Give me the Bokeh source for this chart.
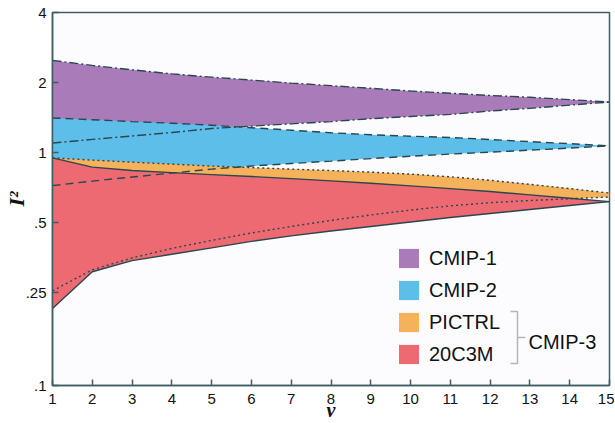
import math
from bokeh.plotting import figure
from bokeh.models import FixedTicker, Legend, LegendItem, Label, PolyAnnotation
from bokeh.embed import file_html
from bokeh.resources import INLINE

# ---- data ----
nu = list(range(1, 16))
cmip1_hi = [2.49, 2.37, 2.27, 2.18, 2.11, 2.05, 1.99, 1.94, 1.89, 1.84, 1.80, 1.76, 1.73, 1.69, 1.65]
cmip1_lo = [1.10, 1.14, 1.18, 1.22, 1.27, 1.30, 1.33, 1.36, 1.40, 1.43, 1.46, 1.51, 1.55, 1.60, 1.65]
cmip2_hi = [1.41, 1.385, 1.36, 1.338, 1.312, 1.28, 1.249, 1.218, 1.194, 1.177, 1.162, 1.139, 1.115, 1.093, 1.07]
cmip2_lo = [0.722, 0.755, 0.786, 0.817, 0.850, 0.876, 0.898, 0.920, 0.943, 0.966, 0.986, 1.005, 1.025, 1.046, 1.07]
pictrl_hi = [0.950, 0.929, 0.911, 0.893, 0.876, 0.863, 0.850, 0.838, 0.825, 0.809, 0.788, 0.761, 0.731, 0.701, 0.671]
pictrl_lo = [0.255, 0.314, 0.353, 0.388, 0.420, 0.452, 0.482, 0.512, 0.540, 0.567, 0.591, 0.610, 0.623, 0.634, 0.645]
c20_hi = [0.950, 0.867, 0.838, 0.821, 0.805, 0.790, 0.774, 0.757, 0.739, 0.720, 0.701, 0.681, 0.659, 0.637, 0.616]
c20_lo = [0.214, 0.308, 0.344, 0.366, 0.390, 0.416, 0.439, 0.461, 0.482, 0.504, 0.527, 0.548, 0.570, 0.593, 0.616]

y_tick_values = [0.1, 0.25, 0.5, 1.0, 2.0, 4.0]
y_tick_labels = [".1", ".25", ".5", "1", "2", "4"]
series_names = ["CMIP-1", "CMIP-2", "PICTRL", "20C3M"]
group_label = "CMIP-3"
x_title = "ν"
y_title = "I²"

# ---- style ----
C_PURPLE = "#a97cb9"
C_BLUE = "#5dbeea"
C_ORANGE = "#f6b25a"
C_RED = "#ee6a72"
C_LINE = "#2a4650"
C_AXIS = "#3f5d66"
FONT = "Liberation Sans"

p = figure(width=614, height=423, x_range=(1, 15), y_range=(0.1, 4),
           y_axis_type="log", output_backend="svg", toolbar_location=None,
           min_border_left=52, min_border_top=12, min_border_right=5, min_border_bottom=37,
           background_fill_color="#fcfcfe", border_fill_color="white")

r1 = p.varea(x=nu, y1=cmip1_lo, y2=cmip1_hi, fill_color=C_PURPLE)
r2 = p.varea(x=nu, y1=cmip2_lo, y2=cmip2_hi, fill_color=C_BLUE)
r3 = p.varea(x=nu, y1=pictrl_lo, y2=pictrl_hi, fill_color=C_ORANGE)
r4 = p.varea(x=nu, y1=c20_lo, y2=c20_hi, fill_color=C_RED)

lw = 1.4
p.line(nu, cmip1_hi, line_color=C_LINE, line_width=lw, line_dash="9 3 2 3")
p.line(nu, cmip1_lo, line_color=C_LINE, line_width=lw, line_dash="9 3 2 3")
p.line(nu, cmip2_hi, line_color=C_LINE, line_width=lw, line_dash="8 5")
p.line(nu, cmip2_lo, line_color=C_LINE, line_width=lw, line_dash="8 5")
p.line(nu, pictrl_hi, line_color=C_LINE, line_width=lw, line_dash="2 3")
p.line(nu, pictrl_lo, line_color=C_LINE, line_width=lw, line_dash="2 3")
p.line(nu, c20_hi, line_color=C_LINE, line_width=lw)
p.line(nu, c20_lo, line_color=C_LINE, line_width=lw)

# axes
p.grid.grid_line_color = None
p.outline_line_color = C_AXIS
p.outline_line_width = 1.5
p.xaxis.ticker = FixedTicker(ticks=nu)
p.yaxis.ticker = FixedTicker(ticks=y_tick_values)
p.yaxis.major_label_overrides = {v: s for v, s in zip(y_tick_values, y_tick_labels)}
for ax in (p.xaxis, p.yaxis):
    ax.axis_line_color = C_AXIS
    ax.axis_line_width = 1.5
    ax.major_tick_line_color = C_AXIS
    ax.major_tick_line_width = 1.5
    ax.major_tick_in = 6
    ax.major_tick_out = 0
    ax.minor_tick_line_color = None
    ax.major_label_text_font = FONT
    ax.major_label_text_font_size = "15px"
    ax.major_label_text_color = "#111111"
    ax.axis_label_text_font = "Liberation Serif"
    ax.axis_label_text_font_style = "bold italic"
    ax.axis_label_text_color = "#111111"
p.xaxis.major_label_standoff = 8
p.yaxis.major_label_standoff = 6
p.yaxis.axis_label = y_title
p.yaxis.axis_label_text_font_size = "22px"
p.yaxis.axis_label_standoff = -6
p.xaxis.axis_label = x_title
p.xaxis.axis_label_text_font_size = "20px"
p.xaxis.axis_label_standoff = -8

# legend
legend = Legend(items=[LegendItem(label=n, renderers=[r]) for n, r in zip(series_names, [r1, r2, r3, r4])],
                location=(344, 19), padding=0, margin=0, spacing=8,
                glyph_width=25, glyph_height=24, label_standoff=8,
                label_text_font=FONT, label_text_font_size="20px", label_text_color="#111111",
                border_line_color=None, background_fill_alpha=0, label_height=24)
p.add_layout(legend)

# CMIP-3 bracket and label (screen units relative to frame)
p.add_layout(PolyAnnotation(xs=[458, 465, 465, 458, 465, 465, 473, 465, 465],
                            ys=[74, 74, 22, 22, 22, 48, 48, 48, 74],
                            xs_units="screen", ys_units="screen",
                            fill_alpha=0, line_color="#111111", line_width=1.5))
p.add_layout(Label(x=476, y=44, x_units="screen", y_units="screen", text=group_label,
                   text_font=FONT, text_font_size="20px", text_color="#111111",
                   text_baseline="middle", text_align="left"))

open("out.html", "w").write(file_html(p, INLINE))
